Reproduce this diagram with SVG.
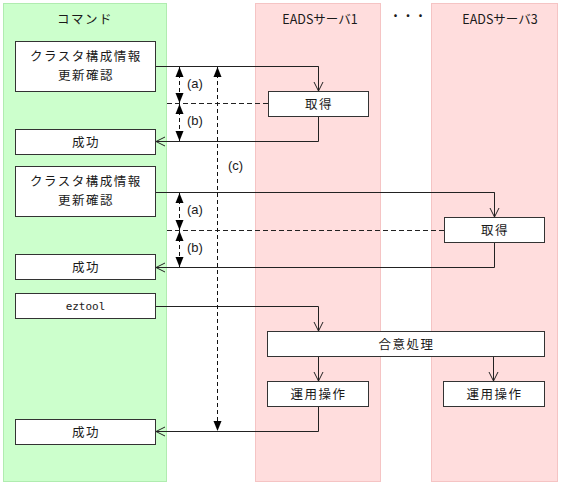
<svg xmlns="http://www.w3.org/2000/svg" width="561" height="485" viewBox="0 0 561 485">
<defs>
<style>
.lane-g{fill:#ccffcc;stroke:#b0ecb0;stroke-width:1}
.lane-p{fill:#ffdddd;stroke:#f5c4c4;stroke-width:1}
.box{fill:#ffffff;stroke:#333333;stroke-width:1}
.t{font-family:"Noto Sans CJK JP","Liberation Sans",sans-serif;font-size:12.5px;letter-spacing:1.5px;fill:#1a1a1a;text-anchor:middle}
.m{font-family:"DejaVu Sans Mono","Liberation Mono",monospace;font-size:11px;fill:#1a1a1a}
.lb{font-family:"Liberation Sans","Noto Sans",sans-serif;font-size:13px;fill:#1a1a1a}
.dl{fill:none;stroke:#222222;stroke-width:1;stroke-dasharray:5,3}
.arr{fill:none;stroke:#222222;stroke-width:1;marker-end:url(#open)}
.dim{fill:none;stroke:#111111;stroke-width:1;stroke-dasharray:4,3;marker-start:url(#fill);marker-end:url(#fill)}
</style>
<marker id="open" markerUnits="userSpaceOnUse" markerWidth="12" markerHeight="12" viewBox="0 0 12 12" refX="10" refY="6" orient="auto">
<path d="M1,1.5 L10,6 L1,10.5" fill="none" stroke="#222222" stroke-width="1"/>
</marker>
<marker id="fill" markerUnits="userSpaceOnUse" markerWidth="12" markerHeight="12" viewBox="0 0 12 12" refX="11" refY="6" orient="auto-start-reverse">
<path d="M1,2 L11,6 L1,10 z" fill="#000000"/>
</marker>
</defs>
<g id="lanes">
<rect class="lane-g" x="3.5" y="3.5" width="163" height="478"/>
<rect class="lane-p" x="255.5" y="3.5" width="125" height="478"/>
<rect class="lane-p" x="431.5" y="3.5" width="126" height="478"/>
<text class="t" x="85" y="24">コマンド</text>
<text class="t" x="320" y="24" style="letter-spacing:0">EADSサーバ1</text>
<text class="t" x="408" y="21" style="letter-spacing:0">・・・</text>
<text class="t" x="500" y="24" style="letter-spacing:0">EADSサーバ3</text>
</g>
<g id="connectors">
<path class="arr" d="M155.5,66.5 H318.5 V91"/>
<path class="dl" d="M242,66.5 H318.5"/>
<path class="arr" d="M318.5,117 V141.5 H156"/>
<path class="dl" d="M167,103.5 H268"/>
<path class="arr" d="M155.5,192.5 H494.5 V217"/>
<path class="dl" d="M245,192.5 H494.5"/>
<path class="arr" d="M494.5,242.5 V267.5 H156"/>
<path class="dl" d="M167,230.5 H444"/>
<path class="arr" d="M155.5,306.5 H318.5 V331"/>
<path class="arr" d="M318.5,356.5 V381"/>
<path class="arr" d="M493.5,356.5 V381"/>
<path class="arr" d="M318.5,406.5 V431.5 H156"/>
<path class="dim" d="M179.5,67 V103"/>
<path class="dim" d="M179.5,104 V141"/>
<path class="dim" d="M179.5,193 V230"/>
<path class="dim" d="M179.5,231 V267"/>
<path class="dim" d="M217.5,67 V431"/>
<text class="lb" x="187" y="88">(a)</text>
<text class="lb" x="187" y="125">(b)</text>
<text class="lb" x="228" y="170">(c)</text>
<text class="lb" x="187" y="214">(a)</text>
<text class="lb" x="187" y="252">(b)</text>
</g>
<g id="cmd1"><rect class="box" x="15.5" y="41.5" width="140" height="50"/><text class="t" x="86" y="61">クラスタ構成情報</text><text class="t" x="86" y="80">更新確認</text></g>
<g id="get1"><rect class="box" x="268.5" y="91.5" width="100" height="25"/><text class="t" x="319" y="108.5">取得</text></g>
<g id="ok1"><rect class="box" x="15.5" y="129.5" width="140" height="25"/><text class="t" x="86" y="146.5">成功</text></g>
<g id="cmd2"><rect class="box" x="15.5" y="166.5" width="140" height="50"/><text class="t" x="86" y="186">クラスタ構成情報</text><text class="t" x="86" y="205">更新確認</text></g>
<g id="get3"><rect class="box" x="444.5" y="217.5" width="100" height="25"/><text class="t" x="495" y="234.5">取得</text></g>
<g id="ok2"><rect class="box" x="15.5" y="254.5" width="140" height="25"/><text class="t" x="86" y="271.5">成功</text></g>
<g id="eztool"><rect class="box" x="15.5" y="293.5" width="140" height="25"/><text class="m" x="85.5" y="310" text-anchor="middle">eztool</text></g>
<g id="consensus"><rect class="box" x="267.5" y="331.5" width="277" height="25"/><text class="t" x="406.5" y="348.5">合意処理</text></g>
<g id="op1"><rect class="box" x="267.5" y="381.5" width="101" height="25"/><text class="t" x="318.5" y="398.5">運用操作</text></g>
<g id="op3"><rect class="box" x="443.5" y="381.5" width="101" height="25"/><text class="t" x="494.5" y="398.5">運用操作</text></g>
<g id="ok3"><rect class="box" x="15.5" y="419.5" width="140" height="25"/><text class="t" x="86" y="436.5">成功</text></g>
</svg>
